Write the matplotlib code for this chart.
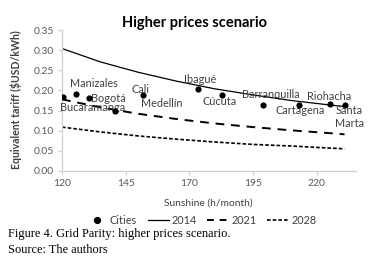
import matplotlib
matplotlib.use("Agg")
import matplotlib.pyplot as plt
from matplotlib.lines import Line2D

# ---- data ----
cities = ["Bucaramanga", "Manizales", "Bogotá", "Medellín", "Cali", "Ibagué",
          "Cúcuta", "Barranquilla", "Cartagena", "Riohacha", "Santa\nMarta"]
city_sun = [120.4, 125.5, 130.7, 140.7, 152.0, 173.5, 183.0, 199.0, 213.0, 225.4, 231.0]
city_tariff = [0.183, 0.191, 0.180, 0.150, 0.188, 0.203, 0.188, 0.164, 0.165, 0.166, 0.163]

curve_sun = [120, 135, 150, 165, 180, 195, 210, 225, 231]
tariff_2014 = [0.304, 0.271, 0.245, 0.223, 0.204, 0.189, 0.175, 0.164, 0.160]
tariff_2021 = [0.178, 0.158, 0.142, 0.129, 0.118, 0.109, 0.101, 0.094, 0.091]
tariff_2028 = [0.109, 0.097, 0.087, 0.079, 0.072, 0.066, 0.062, 0.057, 0.055]

x_ticks = [120, 145, 170, 195, 220]
y_ticks = [0.00, 0.05, 0.10, 0.15, 0.20, 0.25, 0.30, 0.35]

# label offsets (pixels) relative to each city point
label_dx = [29.5, 18, 19, 47, -3, 2, -3, 7.5, 1, -1, 5]
label_dy = [-10.7, 11, 0, 7, 6, 10, -6, 10.7, -6, 8, -12]

W, H = 384, 268
fig = plt.figure(figsize=(W / 100, H / 100), dpi=100)
ax = fig.add_axes([62 / W, (H - 171) / H, (356 - 62) / W, (171 - 30) / H])

font = "Lato"
gray = "#595959"

ax.plot(curve_sun, tariff_2014, color="black", lw=0.9, solid_capstyle="butt")
ax.plot(curve_sun, tariff_2021, color="black", lw=1.4, dashes=(4.5, 3.5))
ax.plot(curve_sun, tariff_2028, color="black", lw=1.2, dashes=(2.2, 1.2))
ax.scatter(city_sun, city_tariff, s=20, color="black", zorder=5, linewidths=0)

for name, x, y, dx, dy in zip(cities, city_sun, city_tariff, label_dx, label_dy):
    ax.annotate(name, xy=(x, y), xytext=(dx, dy), textcoords="offset pixels",
                ha="center", va="center", fontsize=7.8, family=font, color="#404040",
                linespacing=1.2)

ax.set_xlim(120, 235.5)
ax.set_ylim(0, 0.35)
ax.set_xticks(x_ticks)
ax.set_xticklabels([str(v) for v in x_ticks])
ax.set_yticks(y_ticks)
ax.set_yticklabels([f"{v:.2f}" for v in y_ticks])
for s in ["top", "right"]:
    ax.spines[s].set_visible(False)
for s in ["left", "bottom"]:
    ax.spines[s].set_color("#d0d0d0")
    ax.spines[s].set_linewidth(0.9)
ax.tick_params(axis="both", colors="#d0d0d0", length=3, width=0.9, labelcolor=gray,
               labelsize=7.5, pad=3)
for lab in ax.get_xticklabels() + ax.get_yticklabels():
    lab.set_family(font)

fig.text(16 / W, 1 - 100 / H, "Equivalent tariff ($USD/kWh)", rotation=90,
         ha="center", va="center", fontsize=7.6, fontweight="bold", family=font, color="#404040")
fig.text(208 / W, 1 - 203.3 / H, "Sunshine (h/month)", ha="center", va="center",
         fontsize=7.4, family=font, color="#404040")
fig.text(194 / W, 1 - 23 / H, "Higher prices scenario", ha="center", va="center",
         fontsize=10.5, fontweight="bold", family=font, color="black")

handles = [
    Line2D([], [], marker="o", ls="none", color="black", markersize=4.2),
    Line2D([], [], color="black", lw=0.9),
    Line2D([], [], color="black", lw=1.4, dashes=(3.5, 3)),
    Line2D([], [], color="black", lw=1.2, dashes=(2.2, 1.2)),
]
leg = fig.legend(handles, ["Cities", "2014", "2021", "2028"], loc="center",
                 bbox_to_anchor=(201 / W, 1 - 220 / H), ncol=4, frameon=False,
                 handlelength=2.0, handletextpad=0.2, columnspacing=1.0,
                 prop={"family": font, "size": 7.8}, borderpad=0)
for t in leg.get_texts():
    t.set_color("#404040")

fig.text(8 / W, 1 - 234 / H, "Figure 4. Grid Parity: higher prices scenario.",
         ha="left", va="center", fontsize=8.9, family="Liberation Serif", color="black")
fig.text(8 / W, 1 - 250 / H, "Source: The authors",
         ha="left", va="center", fontsize=8.9, family="Liberation Serif", color="black")

fig.savefig("out.png", dpi=100)
